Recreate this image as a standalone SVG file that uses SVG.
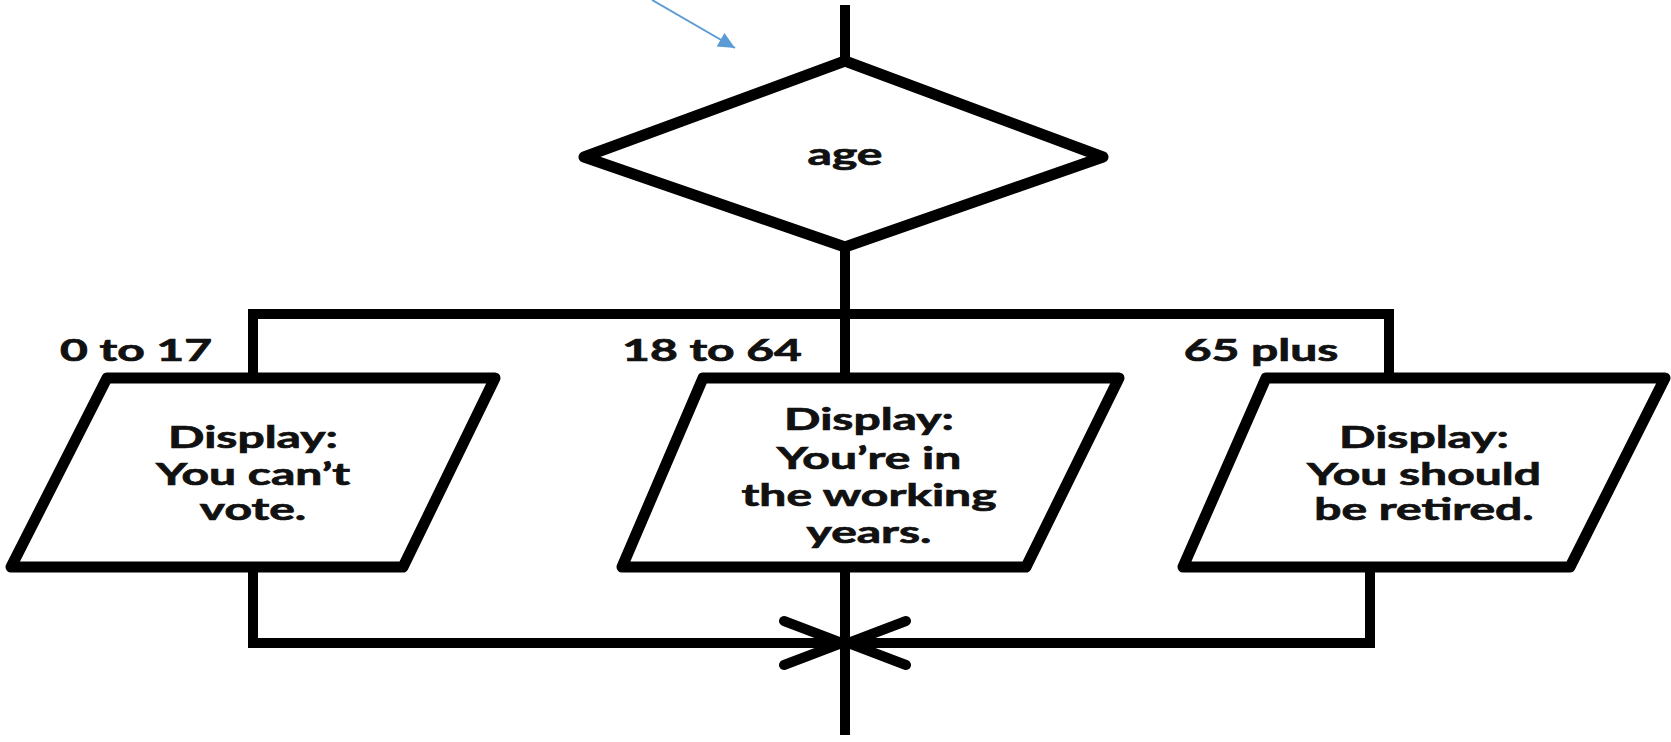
<svg xmlns="http://www.w3.org/2000/svg" width="1671" height="742" viewBox="0 0 1671 742">
<defs>
<marker id="chev" markerUnits="userSpaceOnUse" markerWidth="80" markerHeight="60" viewBox="-70 -30 80 60" refX="0" refY="0" orient="auto">
<path d="M-58,-22 L0,0 L-58,22" fill="none" stroke="#000" stroke-width="10" stroke-linecap="round" stroke-linejoin="miter"/>
</marker>
<marker id="blue" markerUnits="userSpaceOnUse" markerWidth="20" markerHeight="20" viewBox="-16 -8 18 16" refX="0" refY="0" orient="auto">
<path d="M-15,-7 L0,0 L-15,7 Z" fill="#5B9BD5"/>
</marker>
<style>
.shape{fill:#fff;stroke:#000;stroke-width:11;stroke-linejoin:round}
.conn{fill:none;stroke:#000;stroke-width:10;stroke-linejoin:miter;stroke-linecap:butt}
.t{font-family:Lato,"Open Sans","Liberation Sans",sans-serif;font-weight:bold;font-size:30px;fill:#111;stroke:#111;stroke-width:0.7;text-anchor:middle}
</style>
</defs>
<rect width="1671" height="742" fill="#fff"/>

<g id="connectors">
<line class="conn" x1="845" y1="5" x2="845" y2="61"/>
<line class="conn" x1="845" y1="247" x2="845" y2="378"/>
<path class="conn" d="M253,378 V314 H1389 V378"/>
<line class="conn" x1="845" y1="567" x2="845" y2="735"/>
<path class="conn" d="M253,567 V643 H842" marker-end="url(#chev)"/>
<path class="conn" d="M1370,567 V643 H848" marker-end="url(#chev)"/>
<line x1="652" y1="0" x2="735" y2="48" stroke="#5B9BD5" stroke-width="2" marker-end="url(#blue)"/>
</g>

<g id="decision-age">
<polygon class="shape" points="845,61 1103,157 845,247 584,157"/>
<g transform="translate(845,0) scale(1.6,1)"><text class="t" x="0" y="165">age</text></g>
</g>

<g id="label-0-17"><g transform="translate(136,0) scale(1.6,1)"><text class="t" x="0" y="361">0 to 17</text></g></g>
<g id="label-18-64"><g transform="translate(712,0) scale(1.6,1)"><text class="t" x="0" y="361">18 to 64</text></g></g>
<g id="label-65-plus"><g transform="translate(1261,0) scale(1.6,1)"><text class="t" x="0" y="361">65 plus</text></g></g>

<g id="out-cant-vote">
<polygon class="shape" points="107,378 495,378 403,567 11,567"/>
<g transform="translate(253,0) scale(1.6,1)">
<text class="t" x="0" y="448">Display:</text>
<text class="t" x="0" y="485">You can’t</text>
<text class="t" x="0" y="520">vote.</text>
</g>
</g>

<g id="out-working">
<polygon class="shape" points="703,378 1119,378 1026,567 622,567"/>
<g transform="translate(869,0) scale(1.6,1)">
<text class="t" x="0" y="430">Display:</text>
<text class="t" x="0" y="469">You’re in</text>
<text class="t" x="0" y="506">the working</text>
<text class="t" x="0" y="543">years.</text>
</g>
</g>

<g id="out-retired">
<polygon class="shape" points="1266,378 1665,378 1570,567 1183,567"/>
<g transform="translate(1424,0) scale(1.6,1)">
<text class="t" x="0" y="448">Display:</text>
<text class="t" x="0" y="485">You should</text>
<text class="t" x="0" y="520">be retired.</text>
</g>
</g>
</svg>
